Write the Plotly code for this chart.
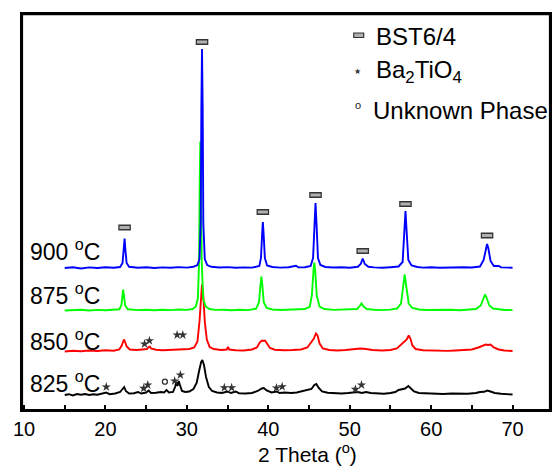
import plotly.graph_objects as go

# ---------------- data ----------------
# intensity above each pattern's own baseline (arbitrary units), 2-theta in degrees
P900 = [(15,0),(16,0.8),(17,-0.5),(18,0.6),(19,0),(20,0.7),(21,0.2),(21.8,1),(22.1,5),(22.25,18),(22.35,29.5),
        (22.45,18),(22.6,5),(22.9,1.2),(24,0.3),(25,0.8),(26,0),(27,0.6),(28,0.2),(29,0.9),(30,0.4),(30.8,1.2),
        (31.3,3),(31.55,9),(31.7,45),(31.78,160),(31.86,219),(31.94,160),(32.02,45),(32.2,9),(32.5,3),(33,1.2),
        (34,0.5),(35,0.9),(36,0.2),(37,0.6),(38,0.4),(38.9,2),(39.1,10),(39.25,35),(39.33,46),(39.42,35),(39.58,10),
        (39.85,2.5),(40.5,1),(41.5,0.4),(42.5,0.7),(43.4,2.2),(43.7,0.6),(44.5,0.8),(45.2,2),(45.5,10),(45.68,45),
        (45.8,65),(45.92,45),(46.1,10),(46.4,3),(47,1),(48,0.5),(49,0.8),(50,0.3),(51,1.2),(51.35,4),(51.6,9.5),
        (51.85,4),(52.3,1.2),(53,0.6),(54,0.2),(55,0.8),(56,1.5),(56.5,6),(56.72,38),(56.85,57),(56.98,38),(57.2,8),
        (57.6,2.5),(58.3,1),(59,0.4),(60,0.7),(61,0.2),(62,0.6),(63,0.3),(64,0.7),(65,0.5),(66,1.5),(66.45,8),
        (66.72,20),(66.87,24),(67.02,20),(67.3,7),(67.7,2),(68.3,2),(68.6,0.6),(69,0.5),(70,0.3)]

P875 = [(15,0),(16,0.5),(17,0.8),(18,0),(19,0.6),(20,0.3),(21,0.7),(21.7,1.2),(21.95,5),(22.08,15),(22.17,21),
        (22.27,15),(22.42,5),(22.75,1.2),(24,0.4),(25,0.8),(26,0.2),(27,0.7),(28,0.4),(29,1),(30,0.6),(30.7,1.5),
        (31.1,4),(31.35,12),(31.5,50),(31.58,130),(31.65,169),(31.73,130),(31.82,50),(32,12),(32.3,4),(32.8,1.5),
        (33.5,0.6),(34.5,0.8),(35.5,0.3),(36.5,0.7),(37.5,0.4),(38.5,1.8),(38.85,8),(39.05,26),(39.15,34),(39.26,26),
        (39.45,8),(39.8,2.5),(40.5,1),(41.5,0.5),(42.5,0.8),(43.5,1),(44.5,1.5),(45.1,4),(45.35,15),(45.55,40),
        (45.65,48),(45.76,40),(45.95,15),(46.3,4),(46.9,1.5),(48,0.6),(49,0.9),(50,0.5),(50.9,1.5),(51.2,4),
        (51.45,7),(51.7,4),(52.1,1.5),(53,0.7),(54,0.4),(55,0.9),(55.8,2),(56.3,7),(56.55,24),(56.75,36),(56.95,24),
        (57.25,7),(57.7,2.5),(58.5,1),(59.5,0.5),(60.5,0.7),(61.5,0.4),(62.5,0.8),(63.5,0.3),(64.5,0.7),(65.5,1.5),
        (66.1,5),(66.45,13),(66.62,16),(66.8,13),(67.15,5),(67.6,2),(68.3,1),(69,0.5),(70,0.4)]

P850 = [(15,0),(16,0.8),(17,0.3),(18,1),(19,0.5),(20,1.2),(21,0.8),(21.7,2),(22.0,6),(22.15,10),(22.27,12),
        (22.4,10),(22.6,5),(23,2),(23.8,1.5),(24.5,2),(25.1,2.5),(25.3,4.5),(25.45,4.8),(25.6,3),(26.2,1.8),(27,1.2),
        (28,1.8),(28.8,2.2),(29.5,2),(30.3,2.5),(30.9,4),(31.3,10),(31.55,30),(31.72,58),(31.86,67),(32.0,58),
        (32.2,30),(32.45,12),(32.8,4.5),(33.3,2.5),(34.2,1.5),(34.9,2),(35.05,4.5),(35.2,2),(36,1.2),(37,1),(38,2),
        (38.6,4),(38.95,9),(39.2,11),(39.4,10.5),(39.6,11),(39.85,8),(40.2,3.5),(40.8,1.8),(42,1.2),(43,1.5),(44,2),
        (44.8,4),(45.3,9),(45.6,13),(45.85,18),(46.05,16),(46.3,8),(46.7,3),(47.5,1.5),(48.5,1),(49.5,1.5),
        (50.5,2.5),(51.3,3),(52,2.5),(52.8,1.5),(54,1),(55,1.5),(55.8,3),(56.3,7),(56.7,10),(57.0,12),(57.25,16),
        (57.45,13),(57.7,6),(58.1,2.5),(59,1.2),(60,0.8),(61,1),(62,0.6),(63,1),(64,1.2),(65,2),(65.8,4),(66.3,6),
        (66.7,7),(67.0,6.5),(67.3,7),(67.7,4),(68.3,2),(69,1),(70,0.5)]

P825 = [(15,0),(15.5,0.8),(16,-0.4),(16.5,0.9),(17,0.2),(17.5,1),(18,0),(18.5,0.8),(19,0.3),(19.6,1.2),(20.1,2.5),
        (20.5,0.8),(21.2,1.5),(21.8,3),(22.15,7),(22.3,8),(22.5,4),(22.9,1.5),(23.5,1.8),(24,3),(24.4,1.5),(25.0,2.5),
        (25.3,4.5),(25.6,2),(26.2,2.2),(26.8,3),(27.2,2.5),(27.5,5),(27.8,2.5),(28.3,3),(28.55,8),(28.7,13),
        (28.85,9),(29.0,14),(29.15,10),(29.4,4),(29.8,3),(30.3,3.5),(30.8,6),(31.2,12),(31.5,24),(31.75,33),(31.9,35),
        (32.1,30),(32.35,18),(32.7,8),(33.1,4),(33.7,2.5),(34.3,2),(35.0,3.5),(35.4,2),(36.0,3.5),(36.4,1.8),
        (37.2,1.5),(38,2),(38.7,4),(39.2,6.5),(39.45,7),(39.8,4.5),(40.4,2.5),(41.0,3.5),(41.4,2),(42,2.5),(42.8,2),
        (43.5,2.5),(44.3,4),(44.8,5),(45.3,6),(45.65,10),(45.9,11),(46.2,7),(46.6,3.5),(47.3,2.2),(48,1.8),(49,1.5),
        (49.8,2),(50.5,2.5),(51.0,3),(51.5,2),(52,3),(52.6,2),(53.3,1.5),(54.2,1.2),(55,2),(55.6,3),(56.0,5),
        (56.4,5.5),(56.8,6.5),(57.2,9),(57.5,7),(57.9,3.5),(58.5,2),(59.5,1.5),(60.5,1.2),(61.5,1),(62.5,1.5),
        (63.5,1),(64.5,1.2),(65.5,2),(66.0,3),(66.5,3.2),(66.9,4.5),(67.3,3.5),(67.8,2),(68.6,1.2),(69.3,1),(70,0.5)]

TEMPS = ["825", "850", "875", "900"]
PATTERNS = [P825, P850, P875, P900]
OFFSETS = [15, 58.5, 99.5, 142]          # vertical stacking of the patterns
COLORS = ["#000000", "#ff0000", "#00ff00", "#0000ff"]

# phase markers (2-theta, absolute height on the stacked scale)
BST_X = [22.35, 31.86, 39.33, 45.8, 51.6, 56.85, 66.87]
BST_Y = [182.5, 368, 198, 215, 159, 206, 174.5]
STAR_X = [24.8, 25.4, 28.8, 29.5, 20.1, 24.7, 25.2, 28.5, 29.2, 34.6, 35.5, 41.0, 41.7, 50.7, 51.45]
STAR_Y = [66, 69.3, 75, 75, 23, 21.7, 25, 29, 35, 22.3, 22.3, 22, 23.3, 20.7, 25]
UNK_X = [27.3]
UNK_Y = [28.3]

XTICKS = [10, 20, 30, 40, 50, 60, 70]

FONT = "Liberation Sans, Arial, sans-serif"

fig = go.Figure()
for temp, pat, off, col in zip(TEMPS, PATTERNS, OFFSETS, COLORS):
    xs = [p[0] for p in pat]
    ys = [p[1] + off for p in pat]
    fig.add_trace(go.Scatter(x=xs, y=ys, mode="lines", name=temp + " °C",
                             line=dict(color=col, width=1.9, shape="linear"), showlegend=False))

# BST6/4 markers: dark outline bar + grey fill bar
fig.add_trace(go.Scatter(x=BST_X, y=BST_Y, mode="markers", showlegend=False, hoverinfo="skip",
                         marker=dict(symbol="line-ew", size=9, line=dict(color="#333333", width=6))))
fig.add_trace(go.Scatter(x=BST_X, y=BST_Y, mode="markers", showlegend=False, name="BST6/4",
                         marker=dict(symbol="line-ew", size=7.2, line=dict(color="#b0b0b0", width=3))))
fig.add_trace(go.Scatter(x=STAR_X, y=STAR_Y, mode="markers", showlegend=False, name="Ba2TiO4",
                         marker=dict(symbol="star", size=7, color="#333333")))
fig.add_trace(go.Scatter(x=UNK_X, y=UNK_Y, mode="markers", showlegend=False, name="Unknown Phase",
                         marker=dict(symbol="circle-open", size=5, color="#333333", line=dict(width=1.3))))

W, H = 555, 470
L, R, T, B = 22, 552, 14, 410


def px(xp):
    return (xp - L) / (R - L)


def py(yp):
    return (B - yp) / (B - T)


ann = []
# temperature labels
for temp, ycen in zip(TEMPS, [381.5, 340, 293.5, 250]):
    ann.append(dict(text=temp + " <sup>o</sup>C", x=px(28), y=py(ycen), xref="paper", yref="paper",
                    xanchor="left", yanchor="middle", showarrow=False,
                    font=dict(family=FONT, size=23, color="black")))
# legend texts
ann.append(dict(text="BST6/4", x=px(375), y=py(37), xref="paper", yref="paper", xanchor="left",
                yanchor="middle", showarrow=False, font=dict(family=FONT, size=24, color="black")))
ann.append(dict(text="Ba<sub>2</sub>TiO<sub>4</sub>", x=px(375), y=py(71), xref="paper", yref="paper",
                xanchor="left", yanchor="middle", showarrow=False, font=dict(family=FONT, size=24, color="black")))
ann.append(dict(text="Unknown Phase", x=px(372), y=py(110), xref="paper", yref="paper", xanchor="left",
                yanchor="middle", showarrow=False, font=dict(family=FONT, size=24, color="black")))
ann.append(dict(text="★", x=px(359), y=py(71), xref="paper", yref="paper", xanchor="center",
                yanchor="middle", showarrow=False, font=dict(family="DejaVu Sans", size=8, color="#333333")))
ann.append(dict(text="o", x=px(359), y=py(105), xref="paper", yref="paper", xanchor="center",
                yanchor="middle", showarrow=False, font=dict(family=FONT, size=11, color="#222222")))
# x title
ann.append(dict(text="2 Theta (<sup>o</sup>)", x=px(309), y=py(453), xref="paper", yref="paper",
                xanchor="center", yanchor="middle", showarrow=False,
                font=dict(family=FONT, size=21, color="black")))

shapes = [
    # plot frame
    dict(type="rect", xref="paper", yref="paper", x0=0, x1=1, y0=0, y1=1,
         line=dict(color="black", width=2.2), fillcolor="rgba(0,0,0,0)", layer="above"),
    dict(type="line", xref="paper", yref="paper", x0=0, x1=1, y0=1, y1=1,
         line=dict(color="black", width=2.5), layer="above"),
    # legend key for BST6/4
    dict(type="rect", xref="paper", yref="paper", x0=px(355), x1=px(365), y0=py(37.5), y1=py(33),
         fillcolor="#b0b0b0", line=dict(color="#333333", width=1.2)),
]

fig.update_layout(
    width=W, height=H,
    margin=dict(l=L, r=W - R, t=T, b=H - B),
    paper_bgcolor="white", plot_bgcolor="white",
    showlegend=False,
    annotations=ann, shapes=shapes,
    xaxis=dict(range=[9.75, 74.6], tickvals=XTICKS, ticktext=[str(v) for v in XTICKS],
               ticks="inside", ticklen=5, tickwidth=2, tickcolor="black",
               minor=dict(ticks="inside", ticklen=5, tickwidth=2, tickcolor="black", dtick=5),
               showline=True, linewidth=2, linecolor="black", mirror=True,
               showgrid=False, zeroline=False,
               tickfont=dict(family=FONT, size=20, color="black")),
    yaxis=dict(range=[0, 396], showticklabels=False, ticks="", showgrid=False, zeroline=False,
               showline=True, linewidth=2, linecolor="black", mirror=True),
)

fig.write_html("out.html", config={"displayModeBar": False},
               post_script="document.body.style.margin='0';document.body.style.padding='0';")
